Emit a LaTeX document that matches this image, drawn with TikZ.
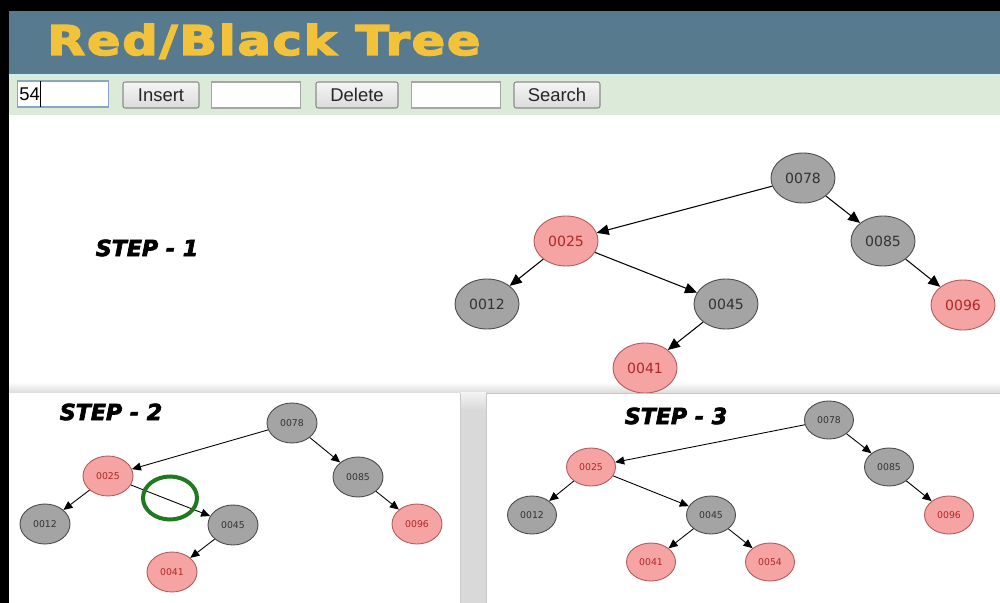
\documentclass[tikz,border=0pt]{standalone}
\usepackage{fontspec}
\setmainfont{DejaVu Sans}
\newfontfamily\uifont{Liberation Sans}
\newfontfamily\titlefont[LetterSpace=4,FakeBold=3.5]{DejaVu Sans Bold}
\newfontfamily\stepfont[FakeBold=3]{DejaVu Sans Bold Oblique}
\usetikzlibrary{shapes.geometric,arrows.meta}

\definecolor{hdrblue}{HTML}{587A8E}
\definecolor{titlegold}{HTML}{F2C23A}
\definecolor{barmint}{HTML}{DCEBD9}
\definecolor{nodegray}{HTML}{A4A4A4}
\definecolor{nodepink}{HTML}{F5A3A3}
\definecolor{pinkedge}{HTML}{B25A5A}
\definecolor{pinktext}{HTML}{B02828}
\definecolor{grayedge}{HTML}{4A4A4A}
\definecolor{graytext}{HTML}{333333}
\definecolor{ringgreen}{HTML}{1F7A1F}
\definecolor{fieldedge}{HTML}{A6A6A6}
\definecolor{focusedge}{HTML}{8AA6C4}
\definecolor{btnedge}{HTML}{8C8C8C}

\tikzset{
  blacknode/.style={ellipse, draw=grayedge, fill=nodegray, text=graytext, line width=0.5pt, inner sep=0pt},
  rednode/.style={ellipse, draw=pinkedge, fill=nodepink, text=pinktext, line width=0.5pt, inner sep=0pt},
  bignode/.style={minimum width=12.8mm, minimum height=10mm, font=\fontsize{8}{8}\selectfont},
  midnode/.style={minimum width=10mm, minimum height=8mm, font=\fontsize{5.3}{5}\selectfont},
  smallnode/.style={minimum width=9.8mm, minimum height=7.6mm, font=\fontsize{5.3}{5}\selectfont},
  biglink/.style={-{Triangle[length=2.4mm,width=2.1mm]}, line width=0.6pt, black},
  smalllink/.style={-{Triangle[length=1.8mm,width=1.6mm]}, line width=0.5pt, black},
  steplabel/.style={font=\stepfont\fontsize{12.6}{14}\selectfont, text=black},
  field/.style={draw=fieldedge, fill=white, line width=0.6pt, minimum height=5.2mm, inner sep=0pt},
  button/.style={draw=btnedge, top color=white!96!black, bottom color=white!86!black, rounded corners=1.2pt,
    line width=0.6pt, minimum height=5.2mm, inner sep=0pt, font=\uifont\fontsize{10.5}{12}\selectfont, text=black!85},
  ring/.style={ellipse, draw=ringgreen, line width=0.8mm, minimum width=10.8mm, minimum height=8.6mm, inner sep=0pt}
}

\begin{document}
\begin{tikzpicture}[x=0.2mm,y=-0.2mm]
\useasboundingbox (0,0) rectangle (1000,603);
\fill[white] (0,0) rectangle (1000,603);

% frame
\fill[black] (0,0) rectangle (1000,11);
\fill[black] (0,0) rectangle (9,603);

% header band and title
\fill[hdrblue] (9,11) rectangle (1000,74);
\node[anchor=base west, inner sep=0pt, text=titlegold] (title) at (47,55)
  {\resizebox{86.6mm}{\height}{\titlefont\fontsize{23.3}{26}\selectfont Red/Black Tree}};

% toolbar
\fill[barmint] (9,74) rectangle (1000,115);
\draw[white!80!cyan, line width=0.5pt] (9,74.5) -- (1000,74.5);
\node[field, draw=focusedge, minimum width=18.2mm] (in1) at (63,94) {};
\node[anchor=west, inner sep=0pt, font=\uifont\fontsize{10.5}{12}\selectfont] (val) at (19,94)
  {54\rule[-0.6ex]{0.5pt}{2.6ex}};
\node[button, minimum width=15.2mm] (ins) at (161,95) {Insert};
\node[field, minimum width=17.8mm] (in2) at (256,95) {};
\node[button, minimum width=16.4mm] (del) at (357,95) {Delete};
\node[field, minimum width=17.8mm] (in3) at (456,95) {};
\node[button, minimum width=17.2mm] (srch) at (557,95) {Search};

% ---------- step 1 ----------
\node[steplabel] (s1) at (147,248) {STEP - 1};
\shade[top color=white, bottom color=white!86!black] (9,382) rectangle (1000,393);

\node[blacknode, bignode] (a78) at (803,178) {0078};
\node[rednode,   bignode] (a25) at (566,241) {0025};
\node[blacknode, bignode] (a85) at (883,241) {0085};
\node[blacknode, bignode] (a12) at (487,304) {0012};
\node[blacknode, bignode] (a45) at (726,304) {0045};
\node[rednode,   bignode] (a96) at (963,305) {0096};
\node[rednode,   bignode] (a41) at (645,368) {0041};
\draw[biglink] (a78) -- (a25);
\draw[biglink] (a78) -- (a85);
\draw[biglink] (a25) -- (a12);
\draw[biglink] (a25) -- (a45);
\draw[biglink] (a45) -- (a41);
\draw[biglink] (a85) -- (a96);

% panels for steps 2 and 3
\fill[white!85!black] (460,393) rectangle (486,603);
\shade[top color=white!95!black, bottom color=white!85!black] (460,393) rectangle (486,410);
\fill[white] (9,393) rectangle (460,603);
\draw[white!80!black, line width=0.4pt] (460,393) -- (460,603);
\fill[white] (486,393) rectangle (1000,603);
\draw[white!78!black, line width=0.5pt] (486,603) -- (486,393) -- (1000,393);

% ---------- step 2 ----------
\node[steplabel] (s2) at (111,412) {STEP - 2};
\node[blacknode, midnode] (b78) at (292,423) {0078};
\node[rednode,   midnode] (b25) at (108,476) {0025};
\node[blacknode, midnode] (b85) at (358,477) {0085};
\node[blacknode, midnode] (b12) at (45,524) {0012};
\node[blacknode, midnode] (b45) at (233,525) {0045};
\node[rednode,   midnode] (b96) at (417,524) {0096};
\node[rednode,   midnode] (b41) at (172,572) {0041};
\draw[smalllink] (b78) -- (b25);
\draw[smalllink] (b78) -- (b85);
\draw[smalllink] (b25) -- (b12);
\draw[smalllink] (b25) -- (b45);
\draw[smalllink] (b45) -- (b41);
\draw[smalllink] (b85) -- (b96);
\node[ring] (hilite) at (170,498) {};

% ---------- step 3 ----------
\node[steplabel] (s3) at (676,416) {STEP - 3};
\node[blacknode, smallnode] (c78) at (829,420) {0078};
\node[rednode,   smallnode] (c25) at (591,467) {0025};
\node[blacknode, smallnode] (c85) at (889,467) {0085};
\node[blacknode, smallnode] (c12) at (532,515) {0012};
\node[blacknode, smallnode] (c45) at (711,515) {0045};
\node[rednode,   smallnode] (c96) at (949,515) {0096};
\node[rednode,   smallnode] (c41) at (651,562) {0041};
\node[rednode,   smallnode] (c54) at (770,562) {0054};
\draw[smalllink] (c78) -- (c25);
\draw[smalllink] (c78) -- (c85);
\draw[smalllink] (c25) -- (c12);
\draw[smalllink] (c25) -- (c45);
\draw[smalllink] (c45) -- (c41);
\draw[smalllink] (c45) -- (c54);
\draw[smalllink] (c85) -- (c96);
\end{tikzpicture}
\end{document}
